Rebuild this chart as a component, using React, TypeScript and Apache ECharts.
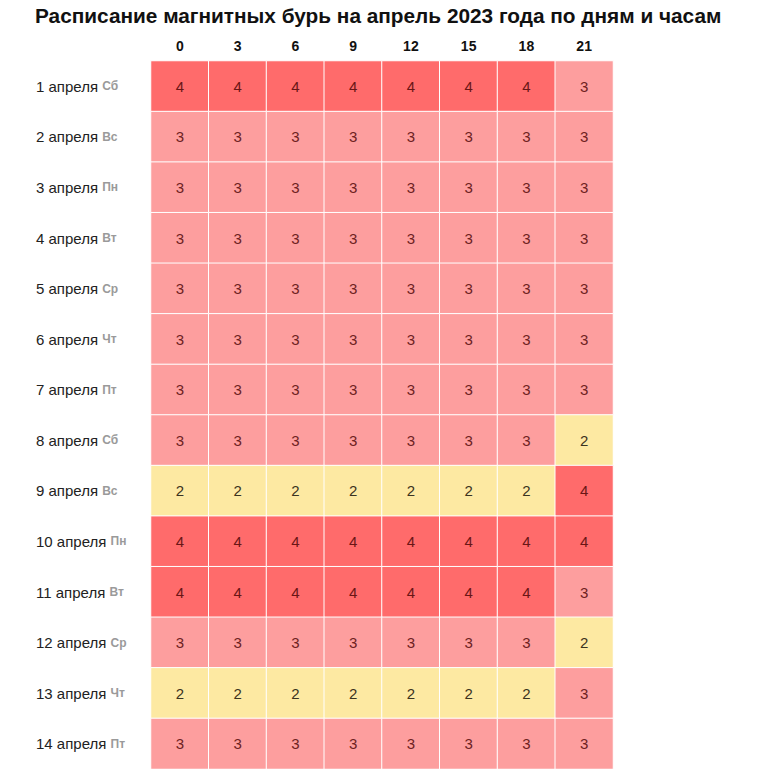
import React, { useEffect, useRef } from "react";
import * as echarts from "echarts";

const hours = ["0", "3", "6", "9", "12", "15", "18", "21"];
const days = [
  "1 апреля", "2 апреля", "3 апреля", "4 апреля", "5 апреля", "6 апреля", "7 апреля",
  "8 апреля", "9 апреля", "10 апреля", "11 апреля", "12 апреля", "13 апреля", "14 апреля",
];
const weekdays = ["Сб", "Вс", "Пн", "Вт", "Ср", "Чт", "Пт", "Сб", "Вс", "Пн", "Вт", "Ср", "Чт", "Пт"];
const levels: number[][] = [
  [4, 4, 4, 4, 4, 4, 4, 3],
  [3, 3, 3, 3, 3, 3, 3, 3],
  [3, 3, 3, 3, 3, 3, 3, 3],
  [3, 3, 3, 3, 3, 3, 3, 3],
  [3, 3, 3, 3, 3, 3, 3, 3],
  [3, 3, 3, 3, 3, 3, 3, 3],
  [3, 3, 3, 3, 3, 3, 3, 3],
  [3, 3, 3, 3, 3, 3, 3, 2],
  [2, 2, 2, 2, 2, 2, 2, 4],
  [4, 4, 4, 4, 4, 4, 4, 4],
  [4, 4, 4, 4, 4, 4, 4, 3],
  [3, 3, 3, 3, 3, 3, 3, 2],
  [2, 2, 2, 2, 2, 2, 2, 3],
  [3, 3, 3, 3, 3, 3, 3, 3],
];
const title = "Расписание магнитных бурь на апрель 2023 года по дням и часам";

const fillColors: Record<number, string> = { 2: "#fde9a2", 3: "#fd9e9e", 4: "#ff6b6b" };
const textColors: Record<number, string> = { 2: "#3b3320", 3: "#6e2222", 4: "#6a1616" };

export default function App() {
  const ref = useRef<HTMLDivElement>(null);
  useEffect(() => {
    document.body.style.margin = "0";
    const chart = echarts.init(ref.current!, null, { renderer: "svg" });
    const data: any[] = [];
    levels.forEach((row, r) => {
      row.forEach((v, c) => {
        data.push({
          value: [c, r, v],
          label: { color: textColors[v] },
        });
      });
    });
    chart.setOption({
      animation: false,
      backgroundColor: "#ffffff",
      title: {
        text: title,
        left: 30,
        top: 0,
        textStyle: {
          fontFamily: "Liberation Sans, Arial, sans-serif",
          fontWeight: "bold",
          fontSize: 20.8,
          color: "#111",
        },
      },
      grid: { left: 151, right: 160, top: 61, bottom: 0 },
      xAxis: {
        type: "category",
        position: "top",
        data: hours,
        axisLine: { show: false },
        axisTick: { show: false },
        splitArea: { show: false },
        axisLabel: {
          fontFamily: "Liberation Sans, Arial, sans-serif",
          fontWeight: "bold",
          fontSize: 14,
          color: "#111",
          margin: 8,
        },
      },
      yAxis: {
        type: "category",
        inverse: true,
        data: days,
        axisLine: { show: false },
        axisTick: { show: false },
        axisLabel: {
          align: "left",
          margin: 115,
          fontFamily: "Liberation Sans, Arial, sans-serif",
          fontSize: 15,
          color: "#222",
          formatter: (val: string, idx: number) => `${val} {w|${weekdays[idx]}}`,
          rich: {
            w: {
              fontFamily: "Liberation Sans, Arial, sans-serif",
              fontSize: 12,
              fontWeight: "bold",
              color: "#9a9a9a",
            },
          },
        },
      },
      visualMap: {
        show: false,
        type: "piecewise",
        dimension: 2,
        pieces: [
          { value: 2, color: fillColors[2] },
          { value: 3, color: fillColors[3] },
          { value: 4, color: fillColors[4] },
        ],
      },
      series: [
        {
          type: "heatmap",
          data,
          label: {
            show: true,
            fontFamily: "Liberation Sans, Arial, sans-serif",
            fontSize: 15,
            formatter: (p: any) => String(p.value[2]),
          },
          itemStyle: { borderColor: "#ffffff", borderWidth: 1 },
        },
      ],
    });
    return () => chart.dispose();
  }, []);
  return <div ref={ref} style={{ width: 773, height: 769 }} />;
}
